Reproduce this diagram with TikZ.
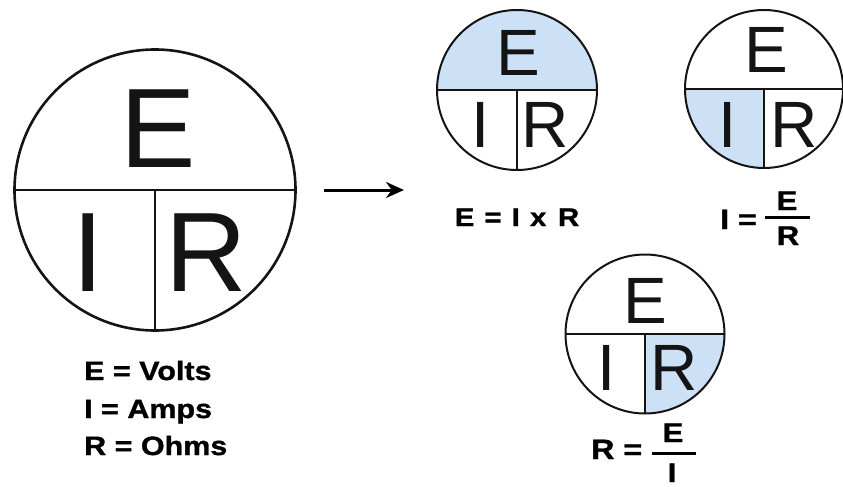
\documentclass[tikz,border=0pt]{standalone}
\usepackage{fontspec}
\setmainfont{Liberation Sans}
\newfontfamily\labfont[FakeStretch=1.15,FakeBold=1.2]{Liberation Sans}
\usetikzlibrary{arrows.meta}
\pgfdeclarelayer{bg}
\pgfsetlayers{bg,main}
\definecolor{ink}{rgb}{0.08,0.08,0.08}
\definecolor{shadeblue}{RGB}{204,224,246}
\tikzset{
  ring/.style={circle, draw=ink, line width=2pt, inner sep=0pt, outer sep=0pt, minimum size=#1},
  divider/.style={draw=ink, line width=2pt},
  bigletter/.style={inner sep=0pt, anchor=base, text=ink, font=\fontsize{113}{113}\selectfont},
  smallletter/.style={inner sep=0pt, anchor=base, text=ink, font=\fontsize{65.5}{65.5}\selectfont},
  lab/.style={inner sep=0pt, anchor=base west, text=black, font=\labfont\bfseries\fontsize{26.5}{26.5}\selectfont},
  eqlab/.style={inner sep=0pt, anchor=base, text=black, font=\labfont\bfseries\fontsize{25.5}{25.5}\selectfont},
  opnd/.style={inner sep=0pt, anchor=base, text=black, font=\labfont\bfseries\fontsize{27}{27}\selectfont},
  fracbar/.style={inner sep=0pt, outer sep=0pt, fill=black, minimum height=3pt, minimum width=#1},
  arrowline/.style={draw=black, line width=3pt, -{Stealth[length=18pt,width=16pt]}}
}
\begin{document}
\begin{tikzpicture}[x=1pt,y=-1pt]
\useasboundingbox (0,0) rectangle (843,487);

% big circle
\node[ring=281pt, line width=2.6pt] (big) at (155,190) {};
\draw[divider, line width=2.6pt] (big.west) -- (big.east);
\draw[divider, line width=2.6pt] (big.center) -- (big.south);
\node[bigletter] (bE) at (158,167) {E};
\node[bigletter] (bI) at (88,291) {I};
\node[bigletter] (bR) at (206,291) {R};

% legend
\node[lab] (l1) at (84,380) {E = Volts};
\node[lab] (l2) at (84,418) {I = Amps};
\node[lab] (l3) at (84,455) {R = Ohms};

% arrow
\coordinate (a1) at (324,190);
\coordinate (a2) at (404,190);
\draw[arrowline] (a1) -- (a2);

% circle 1 : E = I x R
\node[ring=160pt] (c1) at (517,90) {};
\draw[divider] (c1.west) -- (c1.east);
\draw[divider] (c1.center) -- (c1.south);
\node[smallletter] (c1E) at (518,76) {E};
\node[smallletter] (c1I) at (481,147) {I};
\node[smallletter] (c1R) at (545.5,147) {R};
\node[eqlab] (eq1) at (517,226) {E\hspace{2pt} =\hspace{2pt} I\hspace{2pt} x\hspace{3.5pt} R};

% circle 2 : I = E / R
\node[ring=158pt] (c2) at (764,89) {};
\draw[divider] (c2.west) -- (c2.east);
\draw[divider] (c2.center) -- (c2.south);
\node[smallletter] (c2E) at (766,73) {E};
\node[smallletter] (c2I) at (728,147) {I};
\node[smallletter] (c2R) at (794,147) {R};
\node[lab, font=\labfont\bfseries\fontsize{28}{28}\selectfont] (eq2a) at (720,229) {I =};
\node[fracbar=45pt] (bar2) at (787,217) {};
\node[opnd] (eq2n) at (787,210) {E};
\node[opnd] (eq2d) at (788,245) {R};

% circle 3 : R = E / I
\node[ring=159pt] (c3) at (645,334) {};
\draw[divider] (c3.west) -- (c3.east);
\draw[divider] (c3.center) -- (c3.south);
\node[smallletter] (c3E) at (645,323) {E};
\node[smallletter] (c3I) at (607,390) {I};
\node[smallletter] (c3R) at (674,390) {R};
\node[lab, font=\labfont\bfseries\fontsize{28}{28}\selectfont] (eq3a) at (591,459) {R =};
\node[fracbar=44pt] (bar3) at (673.5,453) {};
\node[opnd] (eq3n) at (673,442) {E};
\node[opnd] (eq3d) at (672,482) {I};

% shaded parts
\begin{pgfonlayer}{bg}
  \begin{scope}
    \clip (c1.center) circle[radius=80pt];
    \fill[shadeblue] (c1.west |- c1.north) rectangle (c1.east);
  \end{scope}
  \begin{scope}
    \clip (c2.center) circle[radius=79pt];
    \fill[shadeblue] (c2.west) rectangle (c2.south);
  \end{scope}
  \begin{scope}
    \clip (c3.center) circle[radius=79.5pt];
    \fill[shadeblue] (c3.center) rectangle (c3.east |- c3.south);
  \end{scope}
\end{pgfonlayer}
\end{tikzpicture}
\end{document}
